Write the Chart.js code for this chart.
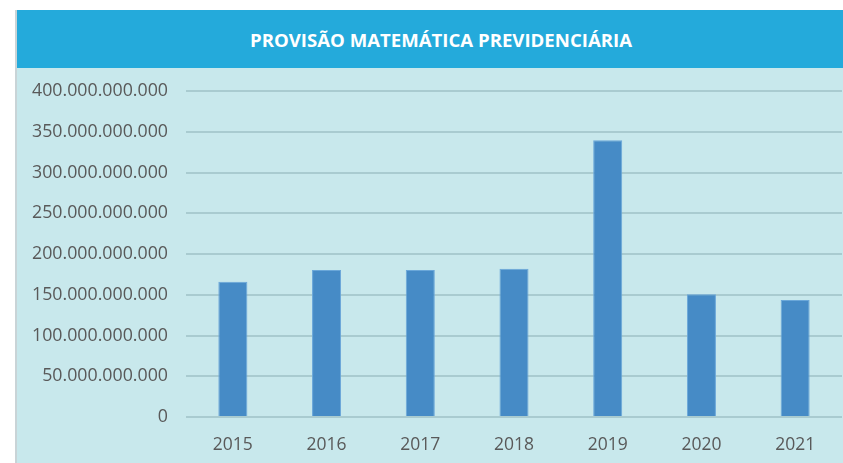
<!DOCTYPE html>
<html>
<head>
<meta charset="utf-8">
<script src="https://cdn.jsdelivr.net/npm/chart.js@4"></script>
<style>
  body { margin: 0; background: #fff; }
  #box { position: absolute; left: 15px; top: 10px; width: 828px; height: 453px;
         border-left: 2px solid #c9d4d7; box-sizing: border-box; background: #c8e8ec; }
  #title { height: 58px; background: #24aadb; color: #fff; text-align: center;
           font: bold 18.6px "Open Sans", sans-serif; line-height: 60px; padding-left: 22px; }
  #wrap { position: relative; width: 826px; height: 395px; }
</style>
</head>
<body>
<div id="box">
  <div id="title">PROVISÃO MATEMÁTICA PREVIDENCIÁRIA</div>
  <div id="wrap"><canvas id="provisao"></canvas></div>
</div>
<script>
var years = ["2015", "2016", "2017", "2018", "2019", "2020", "2021"];
var provisao = [166000000000, 180500000000, 180500000000, 182000000000, 339500000000, 150500000000, 143500000000];

function formatBR(v) {
    return String(v).replace(/\B(?=(\d{3})+(?!\d))/g, ".");
}

var ctx = document.getElementById("provisao").getContext('2d');
var provisaoChart = new Chart(ctx, {
    type: 'bar',
    data: {
        labels: years,
        datasets: [{
            data: provisao,
            backgroundColor: "#468bc6",
            borderColor: "#6aa7d9",
            borderWidth: 1,
            barPercentage: 0.31,
            categoryPercentage: 1
        }]
    },
    options: {
        responsive: true,
        maintainAspectRatio: false,
        animation: false,
        layout: { padding: { top: 23, right: 1, left: 0, bottom: 0 } },
        plugins: { legend: { display: false }, tooltip: { enabled: false } },
        scales: {
            x: {
                grid: { display: false },
                border: { display: false },
                ticks: { color: "#595959", padding: 10, font: { family: "Open Sans", size: 17.5 } },
                afterFit: function (scale) { scale.height = 46; }
            },
            y: {
                min: 0,
                max: 400000000000,
                border: { display: false },
                grid: { color: "#a9cbd0", lineWidth: 2, drawTicks: false },
                ticks: {
                    stepSize: 50000000000,
                    color: "#595959",
                    padding: 18,
                    font: { family: "Open Sans", size: 17.8 },
                    callback: function (v) { return formatBR(v); }
                },
                afterFit: function (scale) {
                    scale.width = 169;
                    scale.paddingTop = 0;
                    scale.paddingBottom = 0;
                }
            }
        }
    }
});
</script>
</body>
</html>
